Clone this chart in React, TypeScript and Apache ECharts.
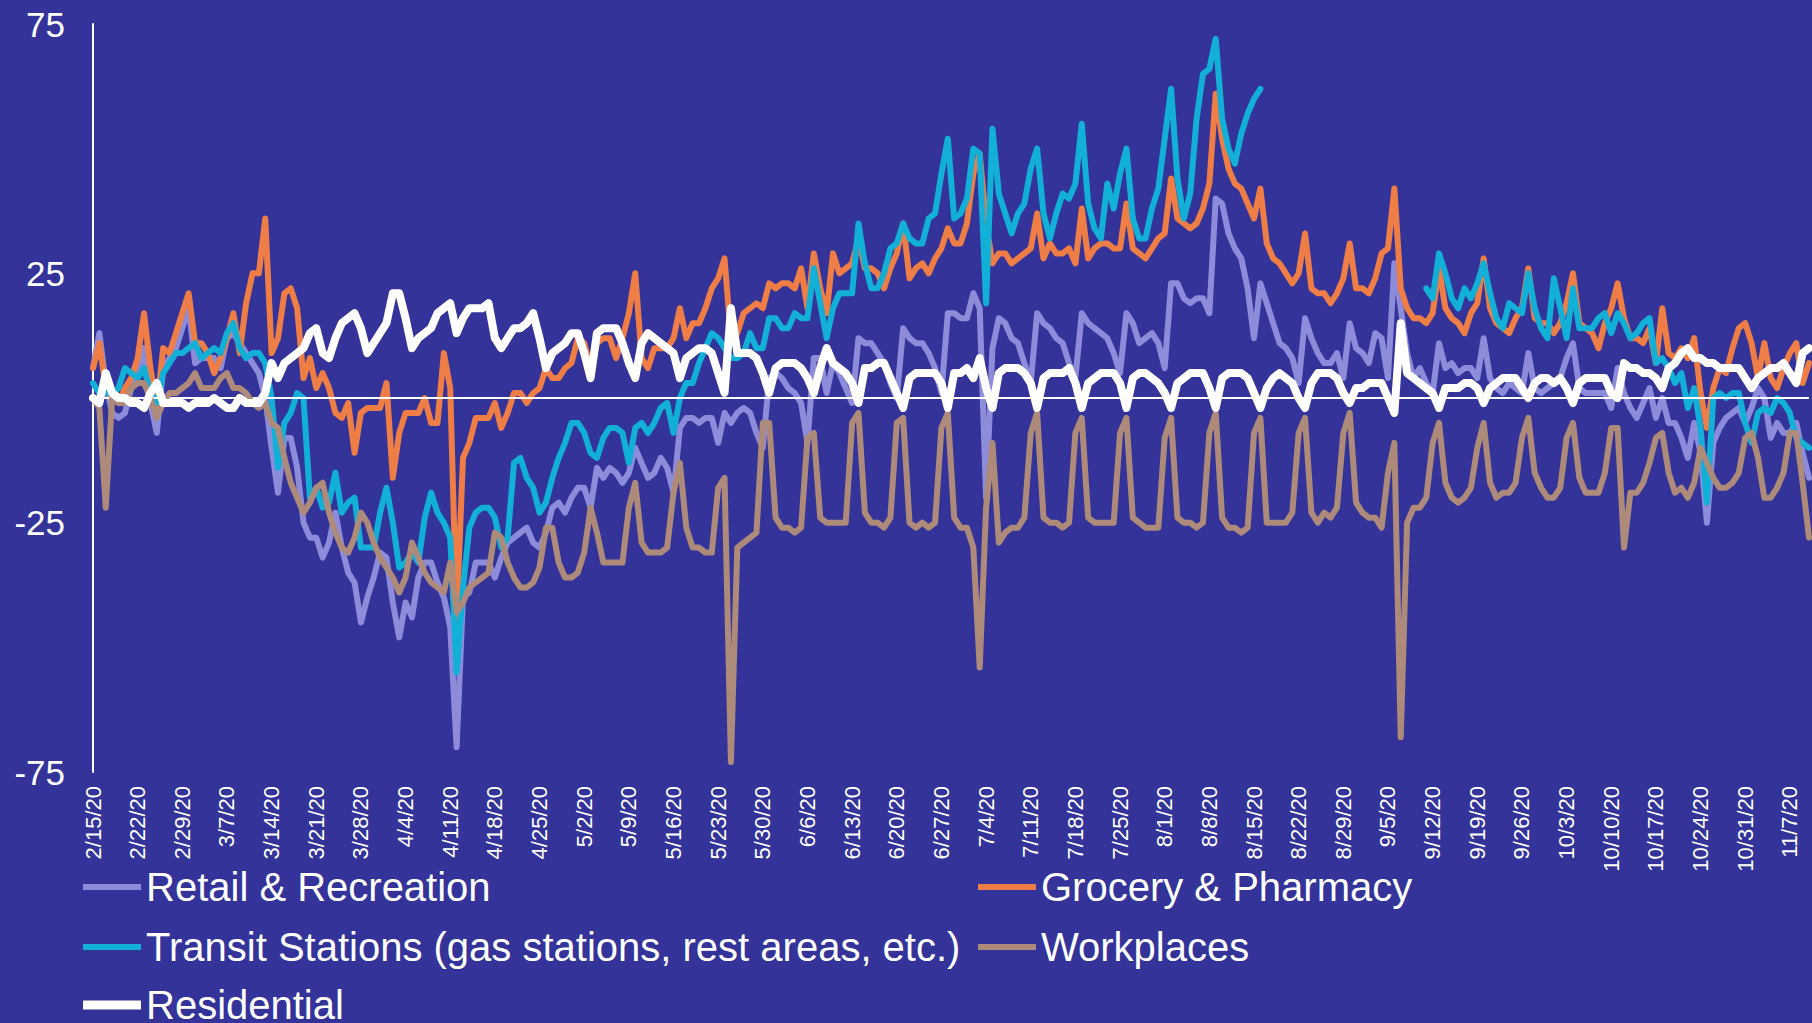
import React, { useEffect, useRef } from "react";
import * as echarts from "echarts";

const START_YEAR = 2020;
const START_MONTH = 1; // February (0-based)
const START_DAY = 15;
const DAY_COUNT = 270;

const dates: string[] = [];
for (let i = 0; i < DAY_COUNT; i++) {
  const d = new Date(START_YEAR, START_MONTH, START_DAY + i);
  dates.push(`${d.getMonth() + 1}/${d.getDate()}/20`);
}

const yTicks = [-75, -25, 25, 75];

const retail = [
  6, 13, 3, -3, -4, -3, 2, 5, 10, -1,
  -7, 6, 8, 10, 14, 18, 7, 8, 8, 8,
  6, 12, 13, 11, 9, 7, 5, 0, -10, -19,
  -8, -8, -14, -25, -28, -28, -32, -29, -23, -30,
  -35, -37, -45, -40, -36, -31, -32, -41, -48, -41,
  -44, -36, -33, -33, -37, -40, -46, -70, -40, -39,
  -33, -33, -33, -36, -32, -29, -28, -27, -26, -29,
  -30, -27, -22, -21, -23, -20, -18, -18, -22, -14,
  -16, -14, -15, -17, -15, -10, -13, -16, -15, -12,
  -14, -19, -6, -4, -4, -5, -4, -4, -9, -3,
  -5, -3, -2, -3, -7, -10, 4, 5, 4, 2,
  1, -1, -9, 8, 8, 1, 7, 5, 2, -1,
  12, 11, 11, 9, 7, 3, 0, 14, 12, 11,
  11, 9, 6, 1, 17, 17, 16, 16, 21, 18,
  -20, 10, 16, 15, 12, 11, 7, 3, 17, 15,
  14, 12, 11, 7, 4, 17, 15, 14, 13, 12,
  9, 5, 17, 15, 11, 12, 13, 11, 6, 23,
  23, 20, 19, 20, 20, 17, 40, 39, 33, 30,
  28, 22, 12, 23, 19, 15, 11, 10, 8, 3,
  16, 12, 9, 7, 7, 9, 4, 15, 10, 9,
  7, 13, 12, 4, 27, 18, 9, 4, 6, 3,
  1, 11, 6, 7, 5, 6, 6, 4, 12, 4,
  2, 1, 3, 2, 1, 9, 2, 1, 2, 3,
  4, 8, 11, 2, 1, 1, 1, 1, -2, 6,
  1, -2, -4, -1, 2, -4, 0, -5, -5, -8,
  -12, -5, -11, -25, -9, -6, -4, -3, -2, -5,
  -2, 2, 0, -8, -5, -7, -7, -5, -11, -16,
];

const grocery = [
  6, 11, 2, 0, -1, 2, 4, 8, 17, 6,
  -2, 10, 9, 13, 17, 21, 11, 11, 9, 5,
  8, 12, 17, 9, 19, 25, 25, 36, 9, 12,
  21, 22, 18, 4, 8, 2, 5, 2, -3, -4,
  -1, -11, -3, -2, -2, -2, 3, -16, -7, -3,
  -3, -3, 0, -5, -5, 9, 2, -44, -12, -9,
  -4, -4, -4, -1, -6, -3, 1, 1, -1, 1,
  2, 6, 4, 4, 6, 7, 12, 11, 6, 11,
  12, 12, 8, 12, 17, 25, 8, 6, 10, 10,
  10, 12, 18, 12, 15, 15, 18, 22, 24, 28,
  12, 13, 17, 18, 19, 18, 23, 22, 23, 23,
  22, 26, 18, 29, 22, 17, 29, 25, 26, 27,
  32, 26, 26, 25, 22, 26, 29, 35, 24, 26,
  27, 25, 28, 30, 34, 31, 31, 35, 45, 49,
  35, 27, 29, 29, 27, 28, 29, 30, 37, 28,
  31, 29, 29, 30, 27, 38, 28, 30, 31, 31,
  30, 30, 39, 30, 29, 28, 30, 32, 33, 44,
  36, 35, 34, 35, 38, 43, 61, 52, 46, 43,
  42, 39, 36, 42, 31, 28, 27, 25, 23, 25,
  33, 22, 21, 21, 19, 21, 24, 31, 22, 22,
  21, 24, 29, 30, 42, 22, 18, 16, 16, 15,
  17, 26, 18, 16, 15, 13, 17, 19, 28, 18,
  15, 14, 13, 16, 18, 26, 16, 15, 15, 13,
  15, 19, 25, 15, 14, 13, 10, 15, 18, 23,
  16, 12, 12, 11, 14, 7, 18, 9, 8, 10,
  8, 12, 1, -6, 2, 6, 5, 10, 14, 15,
  11, 4, 11, 4, 2, 6, 9, 11, 3, 7,
];

const transit = [
  3, 1, 1, 1, 2, 6, 5, 4, 6, 1,
  -1, 5, 7, 9, 9, 10, 11, 8, 9, 10,
  9, 13, 15, 10, 8, 9, 9, 7, 0, -14,
  -5, -3, 1, 0, -20, -18, -22, -21, -15, -23,
  -21, -20, -30, -30, -30, -23, -18, -25, -34, -33,
  -31, -33, -24, -19, -23, -25, -28, -55, -38, -26,
  -23, -22, -22, -24, -30, -28, -13, -12, -16, -18,
  -23, -21, -16, -12, -9, -5, -5, -7, -11, -12,
  -8, -6, -6, -7, -13, -6, -5, -7, -5, -2,
  -1, -7, 0, 3, 3, 7, 10, 13, 12, 10,
  8, 8, 9, 13, 10, 10, 16, 16, 14, 14,
  17, 16, 16, 26, 19, 12, 18, 21, 21, 21,
  35, 27, 22, 22, 25, 30, 31, 35, 32, 31,
  31, 36, 37, 45, 52, 36, 37, 40, 50, 49,
  19, 54, 41, 37, 33, 37, 39, 46, 50, 37,
  32, 37, 41, 40, 43, 55, 39, 34, 32, 43,
  38, 45, 50, 36, 32, 32, 38, 42, 52, 62,
  44, 36, 41, 56, 65, 66, 72, 56, 50, 47,
  53, 57, 60, 62, null, null, null, null, null, null,
  null, null, null, null, null, null, null, null, null, null,
  null, null, null, null, null, null, null, null, null, 22,
  20, 29, 25, 20, 18, 22, 20, 23, 27, 21,
  16, 14, 19, 18, 17, 25, 18, 14, 12, 24,
  18, 12, 22, 14, 14, 14, 16, 17, 13, 17,
  15, 12, 13, 15, 16, 7, 8, 6, 3, 5,
  -2, 2, -6, -21, 0, 1, 0, 1, 1, -5,
  -9, -3, -2, -3, 0, -1, -3, -8, -9, -10,
];

const workplaces = [
  0, -2, -22, 0, -1, -1, 2, 3, 3, 0,
  -4, -1, 1, 1, 2, 3, 5, 2, 2, 2,
  4, 5, 2, 2, 1, -1, -2, -1, -5, -6,
  -12, -17, -20, -23, -21, -18, -17, -23, -27, -30,
  -31, -28, -23, -25, -29, -32, -34, -36, -39, -36,
  -29, -32, -35, -37, -38, -39, -33, -43, -41, -38,
  -37, -36, -35, -27, -28, -33, -36, -38, -38, -37,
  -34, -26, -26, -33, -36, -36, -35, -31, -22, -27,
  -33, -33, -33, -33, -22, -17, -29, -31, -31, -31,
  -30, -19, -13, -26, -30, -30, -31, -31, -18, -16,
  -73, -30, -29, -28, -27, -5, -5, -24, -26, -26,
  -27, -26, -8, -7, -24, -25, -25, -25, -25, -5,
  -3, -23, -25, -25, -26, -24, -5, -4, -25, -26,
  -25, -26, -25, -6, -3, -24, -26, -26, -30, -54,
  -22, -9, -29, -27, -26, -26, -24, -7, -3, -24,
  -25, -25, -26, -25, -7, -4, -24, -25, -25, -25,
  -25, -7, -4, -24, -25, -26, -26, -26, -8, -4,
  -24, -25, -25, -26, -25, -7, -3, -24, -26, -26,
  -27, -26, -7, -4, -25, -25, -25, -25, -23, -7,
  -4, -23, -25, -23, -24, -22, -7, -3, -21, -23,
  -24, -24, -26, -15, -9, -68, -25, -22, -22, -20,
  -9, -5, -17, -20, -21, -20, -18, -10, -5, -17,
  -20, -19, -19, -17, -8, -4, -15, -18, -20, -20,
  -18, -8, -5, -16, -19, -19, -19, -15, -6, -6,
  -30, -19, -19, -17, -13, -8, -7, -15, -19, -18,
  -20, -17, -10, -13, -16, -18, -18, -17, -15, -8,
  -7, -12, -20, -20, -18, -15, -7, -7, -17, -28,
];

const residential = [
  0, -1, 5, 1, 0, 0, -1, -1, -2, 1,
  3, -1, -1, -1, -1, -2, -1, -1, -1, 0,
  -1, -2, -2, 0, -1, -1, -1, 1, 7, 4,
  7, 8, 9, 10, 13, 14, 9, 8, 12, 15,
  16, 17, 14, 9, 11, 13, 15, 21, 21, 16,
  10, 12, 13, 14, 17, 18, 19, 13, 16, 18,
  18, 18, 19, 12, 10, 12, 14, 14, 15, 17,
  12, 6, 9, 10, 11, 13, 13, 9, 4, 13,
  14, 14, 14, 11, 7, 4, 11, 13, 12, 11,
  10, 9, 4, 8, 9, 10, 10, 9, 5, 1,
  18, 9, 9, 9, 8, 5, 1, 6, 7, 7,
  7, 6, 4, 1, 6, 10, 7, 6, 5, 3,
  -1, 6, 6, 7, 7, 4, 1, -2, 4, 5,
  5, 5, 5, 3, -2, 5, 5, 6, 4, 8,
  2, -2, 5, 6, 6, 6, 5, 3, -2, 4,
  5, 5, 5, 6, 3, -2, 3, 4, 5, 5,
  5, 3, -2, 4, 5, 5, 4, 3, 1, -2,
  3, 4, 5, 5, 5, 2, -2, 4, 5, 5,
  5, 4, 1, -2, 2, 4, 5, 4, 3, 0,
  -2, 3, 5, 5, 5, 4, 1, -1, 2, 2,
  3, 3, 3, 0, -3, 15, 5, 4, 3, 2,
  1, -2, 2, 2, 2, 3, 3, 2, -1, 2,
  3, 4, 4, 4, 2, 0, 3, 4, 4, 3,
  4, 2, -1, 3, 4, 4, 4, 4, 1, 0,
  7, 6, 6, 5, 5, 4, 2, 6, 7, 9,
  10, 8, 8, 7, 7, 6, 6, 6, 6, 4,
  2, 4, 5, 6, 6, 7, 5, 3, 9, 10,
];

const seriesNames = [
  "Retail & Recreation",
  "Grocery & Pharmacy",
  "Transit Stations (gas stations, rest areas, etc.)",
  "Workplaces",
  "Residential",
];
const seriesColors = ["#8C8CDA", "#EE7D46", "#12AFD7", "#AD8A7A", "#FFFFFF"];
const seriesWidths = [6, 6, 6, 6, 8];
const seriesData = [retail, grocery, transit, workplaces, residential];

const FONT = "'Liberation Sans', Arial, sans-serif";

export default function App() {
  const ref = useRef<HTMLDivElement>(null);

  useEffect(() => {
    if (!ref.current) return;
    const chart = echarts.init(ref.current, undefined, { renderer: "svg" });

    const legendPos = [
      { left: 83, top: 863 },
      { left: 978, top: 863 },
      { left: 83, top: 923 },
      { left: 978, top: 923 },
      { left: 83, top: 981 },
    ];

    const legends = seriesNames.map((name, i) => ({
      show: true,
      data: [name],
      left: legendPos[i].left,
      top: legendPos[i].top,
      orient: "horizontal",
      selectedMode: false,
      icon: "rect",
      itemWidth: 58,
      itemHeight: i === 4 ? 9 : 6,
      itemGap: 0,
      padding: 0,
      textStyle: {
        color: "#FFFFFF",
        fontSize: 40,
        fontFamily: FONT,
        lineHeight: 48,
        padding: [0, 0, 0, 0],
      },
    }));

    const series = seriesNames.map((name, i) => ({
      name,
      type: "line",
      data: seriesData[i],
      showSymbol: false,
      symbol: "none",
      connectNulls: false,
      color: seriesColors[i],
      itemStyle: { color: seriesColors[i] },
      lineStyle: {
        color: seriesColors[i],
        width: seriesWidths[i],
        join: "round",
        cap: "round",
      },
      z: 2 + i,
      ...(i === 0
        ? {
            markLine: {
              silent: true,
              symbol: "none",
              label: { show: false },
              lineStyle: { color: "#FFFFFF", width: 2, type: "solid" },
              data: [{ yAxis: 0 }],
              animation: false,
            },
          }
        : {}),
    }));

    chart.setOption({
      animation: false,
      backgroundColor: "#333399",
      grid: { left: 93, right: 3, top: 24, bottom: 251, containLabel: false },
      legend: legends,
      xAxis: {
        type: "category",
        data: dates,
        boundaryGap: false,
        axisLine: { show: false },
        axisTick: { show: false },
        splitLine: { show: false },
        axisLabel: {
          interval: 6,
          rotate: 90,
          color: "#FFFFFF",
          fontSize: 22,
          fontFamily: FONT,
          margin: 14,
        },
      },
      yAxis: {
        type: "value",
        min: yTicks[0],
        max: yTicks[yTicks.length - 1],
        interval: yTicks[1] - yTicks[0],
        axisLine: { show: true, lineStyle: { color: "#FFFFFF", width: 2 } },
        axisTick: { show: false },
        splitLine: { show: false },
        axisLabel: {
          color: "#FFFFFF",
          fontSize: 35,
          fontFamily: FONT,
          margin: 28,
        },
      },
      series,
    });

    return () => {
      chart.dispose();
    };
  }, []);

  return (
    <div
      ref={ref}
      style={{
        position: "absolute",
        left: 0,
        top: 0,
        width: 1812,
        height: 1023,
      }}
    />
  );
}
